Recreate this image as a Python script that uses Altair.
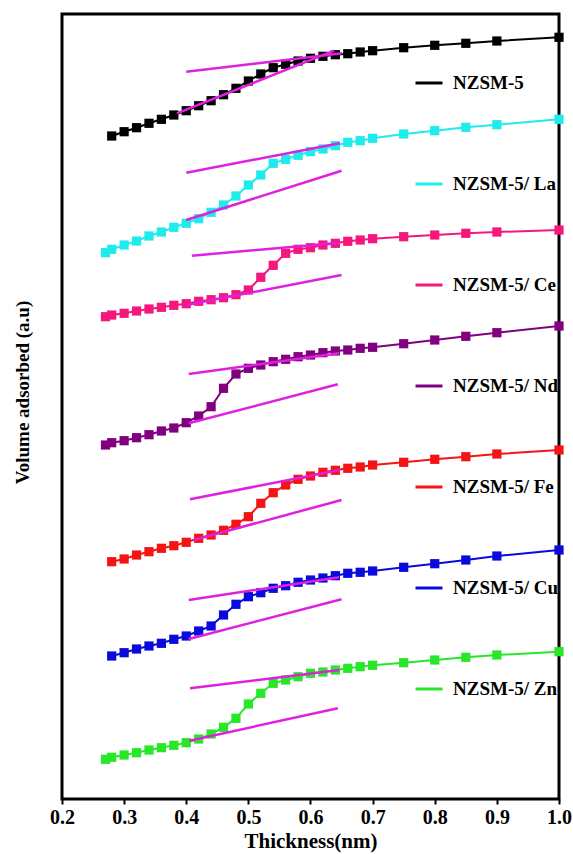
import altair as alt
import pandas as pd

series_names = ["NZSM-5", "NZSM-5/ La", "NZSM-5/ Ce", "NZSM-5/ Nd",
                "NZSM-5/ Fe", "NZSM-5/ Cu", "NZSM-5/ Zn"]
series_colors = ["#000000", "#1EEBEB", "#F5177E", "#800080",
                 "#F51414", "#0A0ADC", "#28E628"]

x_full = [0.28, 0.30, 0.32, 0.34, 0.36, 0.38, 0.40, 0.42, 0.44, 0.46, 0.48,
          0.50, 0.52, 0.54, 0.56, 0.58, 0.60, 0.62, 0.64, 0.66, 0.68, 0.70,
          0.75, 0.80, 0.85, 0.90, 1.00]
x_ext = [0.27] + x_full

v_base = [663, 667.3, 671.3, 675.7, 679.7, 684, 688.3, 693.3, 698.3, 704.3,
          710.7, 718, 725, 731.3, 734.7, 738, 740.7, 742.7, 744.3, 745.3, 747,
          748.3, 751.3, 753.7, 755.7, 758, 761.7]
v_la = [546.3, 549.7, 554, 558, 563, 567, 571.7, 575.7, 580.3, 586.7, 594,
        603, 614, 624, 635.7, 639.7, 643.7, 647.3, 650, 653.3, 656.7, 658.3,
        660.7, 665, 668.3, 671.7, 674.3, 679.7]
v_ce = [482.3, 484, 485.7, 488, 490, 491.7, 493.7, 495.3, 497.7, 499.3, 501.3,
        504.3, 509, 521.7, 533.7, 545.7, 549.7, 551.3, 554, 555.7, 557.7, 559,
        560.3, 562.3, 564, 565.7, 567, 569]
v_nd = [354, 356.3, 358.3, 361.3, 364.3, 368, 371, 376.3, 383, 392.3, 410.7,
        425, 430.7, 434, 437.3, 439.7, 442.3, 444, 446.3, 448, 449, 450.7,
        451.7, 455.3, 459, 462.7, 466.3, 473]
v_fe = [237.3, 240, 244, 247.3, 250.7, 253.3, 256.7, 260.7, 264, 268.7, 274.7,
        282.3, 295.7, 306.3, 314, 319.7, 323, 326.7, 328.7, 330.7, 332, 334,
        336.7, 339.7, 342.3, 345, 349]
v_cu = [143, 146.3, 150, 153, 155.7, 159.7, 163, 168, 173, 184, 194.7, 202.3,
        206.3, 210.7, 213.3, 216.7, 219, 221, 223.3, 225.7, 226.7, 228, 231.7,
        235.3, 239, 243, 249]
v_zn = [39.7, 41.7, 44, 46.3, 49, 51.3, 53.7, 56.3, 60, 65, 71.7, 80.7, 95,
        105.7, 115.7, 119, 122.3, 125.7, 127, 129, 130.7, 132.3, 133.7, 136.3,
        139, 141.7, 144, 147.3]

# tangent lines (magenta)
tan_series = ["NZSM-5", "NZSM-5", "NZSM-5/ La", "NZSM-5/ La", "NZSM-5/ Ce",
              "NZSM-5/ Ce", "NZSM-5/ Nd", "NZSM-5/ Nd", "NZSM-5/ Fe",
              "NZSM-5/ Fe", "NZSM-5/ Cu", "NZSM-5/ Cu", "NZSM-5/ Zn",
              "NZSM-5/ Zn"]
tan_x1 = [0.400, 0.385, 0.400, 0.400, 0.409, 0.401, 0.404, 0.404, 0.406,
          0.412, 0.404, 0.404, 0.406, 0.405]
tan_v1 = [727.3, 685.7, 626.3, 579, 543.3, 494, 425, 375.7, 299.7, 259, 199,
          160, 110.7, 58.3]
tan_x2 = [0.651, 0.638, 0.647, 0.650, 0.646, 0.650, 0.646, 0.644, 0.647,
          0.650, 0.646, 0.650, 0.647, 0.644]
tan_v2 = [745.7, 748.3, 655.7, 628.3, 556.3, 524, 445.7, 414.7, 329, 299,
          221.7, 199.7, 129, 90.7]

series_data = [
    ("NZSM-5", x_full, v_base),
    ("NZSM-5/ La", x_ext, v_la),
    ("NZSM-5/ Ce", x_ext, v_ce),
    ("NZSM-5/ Nd", x_ext, v_nd),
    ("NZSM-5/ Fe", x_full, v_fe),
    ("NZSM-5/ Cu", x_full, v_cu),
    ("NZSM-5/ Zn", x_ext, v_zn),
]
rows = []
for name, xs, vs in series_data:
    for i, (xv, vv) in enumerate(zip(xs, vs)):
        rows.append({"series": name, "thickness": xv, "volume": vv, "idx": i})
df = pd.DataFrame(rows)

tdf = pd.DataFrame({"series": tan_series, "x1": tan_x1, "v1": tan_v1,
                    "x2": tan_x2, "v2": tan_v2})

FONT = "Liberation Serif"
x_scale = alt.Scale(domain=[0.2, 1.0], nice=False, zero=False)
y_scale = alt.Scale(domain=[0, 785], nice=False, zero=False)
color_scale = alt.Scale(domain=series_names, range=series_colors)

x_axis = alt.Axis(values=[0.2, 0.3, 0.4, 0.5, 0.6, 0.7, 0.8, 0.9, 1.0],
                  format=".1f", labelFlush=False, labelOverlap=False,
                  title="Thickness(nm)", titleFontSize=21, titlePadding=3,
                  labelFontSize=20, labelPadding=3, tickSize=5, tickWidth=2)
y_axis = alt.Axis(labels=False, ticks=False, title="Volume adsorbed (a.u)",
                  titleFontSize=19, titlePadding=30, titleY=378)

base = alt.Chart(df)
lines = base.mark_line(strokeWidth=2).encode(
    x=alt.X("thickness:Q", scale=x_scale, axis=x_axis),
    y=alt.Y("volume:Q", scale=y_scale, axis=y_axis),
    color=alt.Color("series:N", scale=color_scale, legend=alt.Legend(
        title=None, orient="none", legendX=352, legendY=54,
        symbolType="stroke", symbolSize=729, symbolStrokeWidth=3,
        labelFont=FONT, labelFontWeight="bold", labelFontSize=19,
        labelColor="black", labelOffset=9, rowPadding=76,
        labelLimit=300)),
    order="idx:Q",
)
points = base.mark_point(shape="square", filled=True, size=85,
                         opacity=1).encode(
    x=alt.X("thickness:Q", scale=x_scale),
    y=alt.Y("volume:Q", scale=y_scale),
    color=alt.Color("series:N", scale=color_scale, legend=None),
)
tangents = alt.Chart(tdf).mark_rule(color="#E020E0", strokeWidth=2.5).encode(
    x=alt.X("x1:Q", scale=x_scale),
    y=alt.Y("v1:Q", scale=y_scale),
    x2="x2:Q",
    y2="v2:Q",
)

chart = alt.layer(lines, points, tangents).properties(
    width=497, height=785,
    autosize=alt.AutoSizeParams(type="none"),
    padding={"left": 62, "top": 14, "right": 14, "bottom": 55},
    background="white",
).configure_view(
    stroke="black", strokeWidth=3
).configure_axis(
    grid=False, domain=False, labelFont=FONT, labelFontWeight="bold",
    labelColor="black", titleFont=FONT, titleFontWeight="bold",
    titleColor="black", tickColor="black"
)

chart.save("out.html", embed_options={"renderer": "svg", "actions": False})
